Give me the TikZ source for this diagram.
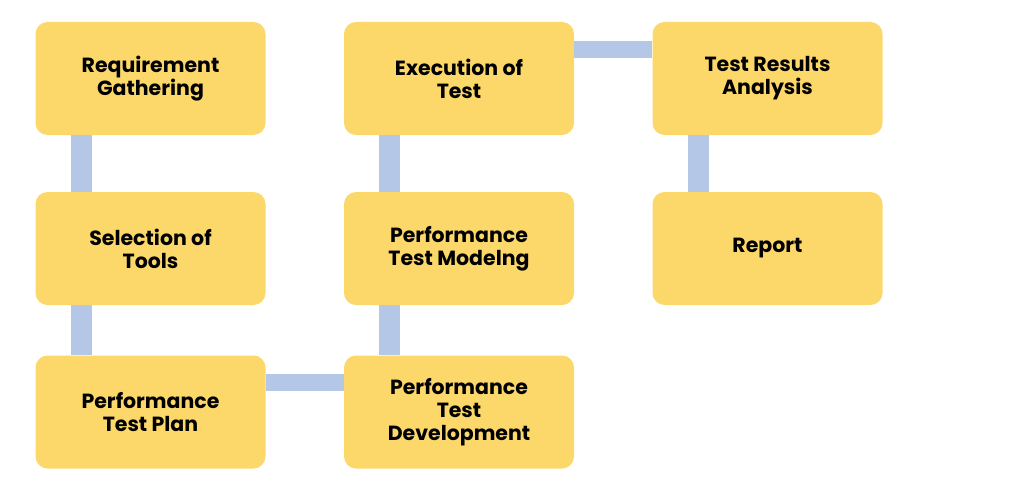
\documentclass[tikz,border=0pt]{standalone}
\usepackage{fontspec}
\setmainfont{Poppins}[BoldFont={Poppins Bold}]
\definecolor{boxfill}{HTML}{FCD86A}
\definecolor{barcol}{HTML}{B4C7E7}
\begin{document}
\begin{tikzpicture}[x=1pt,y=-1pt,
  stage/.style={rectangle, rounded corners=12pt, fill=boxfill, minimum width=230pt, minimum height=113pt, inner sep=0pt, align=center, font=\fontsize{20.5}{23}\selectfont\bfseries, text=black},
  vbar/.style={draw=barcol, line width=21pt},
  hbar/.style={draw=barcol, line width=17pt}]
\useasboundingbox[fill=white] (0,0) rectangle (1016,495);
\node[stage] (rg)  at (150.5,78.5) {Requirement\\Gathering};
\node[stage] (sot) at (150.5,248.5) {Selection of\\Tools};
\node[stage] (ptp) at (150.5,412) {Performance\\Test Plan};
\node[stage] (ex)  at (459,78.5) {Execution of\\Test};
\node[stage] (ptm) at (459,248.5) {Performance\\Test Modelng};
\node[stage] (ptd) at (459,412) {Performance\\Test\\Development};
\node[stage] (tra) at (767.5,78.5) {Test Results\\Analysis};
\node[stage] (rep) at (767.5,248.5) {Report};
\draw[vbar] ([xshift=46pt]rg.south west) -- ([xshift=46pt]sot.north west);
\draw[vbar] ([xshift=46pt]sot.south west) -- ([xshift=46pt]ptp.north west);
\draw[hbar] ([yshift=-27.5pt]ptp.north east) -- ([yshift=-27.5pt]ptd.north west);
\draw[vbar] ([xshift=46pt]ptd.north west) -- ([xshift=46pt]ptm.south west);
\draw[vbar] ([xshift=46pt]ptm.north west) -- ([xshift=46pt]ex.south west);
\draw[hbar] ([yshift=-27.5pt]ex.north east) -- ([yshift=-27.5pt]tra.north west);
\draw[vbar] ([xshift=46pt]tra.south west) -- ([xshift=46pt]rep.north west);
\end{tikzpicture}
\end{document}
